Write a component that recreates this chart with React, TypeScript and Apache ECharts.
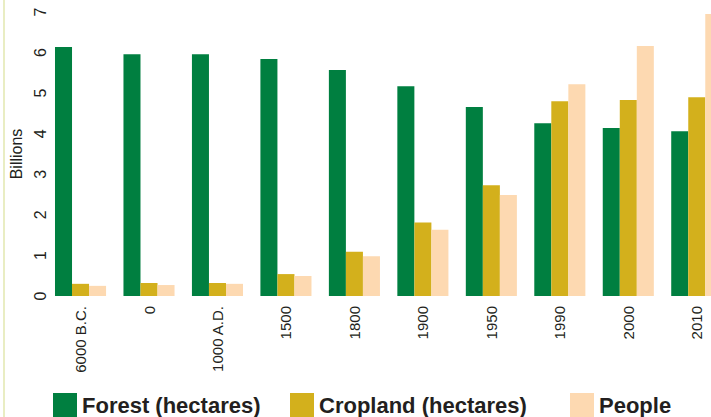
import React, { useEffect, useRef } from "react";
import * as echarts from "echarts";

const categories = ["6000 B.C.", "0", "1000 A.D.", "1500", "1800", "1900", "1950", "1990", "2000", "2010"];
const forest = [6.14, 5.96, 5.96, 5.84, 5.57, 5.17, 4.66, 4.26, 4.14, 4.06];
const cropland = [0.3, 0.32, 0.32, 0.54, 1.09, 1.81, 2.73, 4.8, 4.83, 4.9];
const people = [0.25, 0.27, 0.3, 0.49, 0.98, 1.63, 2.49, 5.22, 6.16, 6.95];
const yTicks = { min: 0, max: 7, interval: 1 };

const seriesNames = ["Forest (hectares)", "Cropland (hectares)", "People"];
const colors = ["#007f40", "#d3b01c", "#fdd9b1"];
const legendLefts = [53, 290, 570];

const FONT = "'Liberation Sans', Arial, sans-serif";
const TEXT = "#231f20";

export default function App() {
  const ref = useRef<HTMLDivElement>(null);
  useEffect(() => {
    if (!ref.current) return;
    const chart = echarts.init(ref.current, null, { renderer: "svg" });
    const values = [forest, cropland, people];
    chart.setOption({
      animation: false,
      backgroundColor: "#ffffff",
      color: colors,
      grid: { left: 46.3, right: 0, top: 12, bottom: 121, containLabel: false },
      legend: seriesNames.map((n, i) => ({
        data: [n],
        left: legendLefts[i],
        top: 393,
        itemWidth: 24,
        itemHeight: 24,
        icon: "rect",
        selectedMode: false,
        padding: 0,
        textStyle: { fontFamily: FONT, fontWeight: "bold", fontSize: 22, color: TEXT },
      })),
      xAxis: {
        type: "category",
        data: categories,
        axisLine: { show: false },
        axisTick: { show: false },
        axisLabel: { rotate: 90, margin: 10, fontFamily: FONT, fontSize: 15, color: TEXT, interval: 0 },
      },
      yAxis: {
        type: "value",
        min: yTicks.min,
        max: yTicks.max,
        interval: yTicks.interval,
        name: "Billions",
        nameLocation: "middle",
        nameRotate: 90,
        nameGap: 15,
        nameTextStyle: { fontFamily: FONT, fontSize: 16, color: TEXT },
        splitLine: { show: false },
        axisLine: { show: false },
        axisTick: { show: false },
        axisLabel: { rotate: 90, margin: -2, fontFamily: FONT, fontSize: 16, color: TEXT },
      },
      graphic: [
        { type: "rect", left: 3, top: 0, shape: { x: 0, y: 0, width: 2, height: 417 }, style: { fill: "#e9edc3" } },
      ],
      series: seriesNames.map((n, i) => ({
        name: n,
        type: "bar",
        data: values[i],
        barGap: "0%",
        barCategoryGap: "25.4%",
        itemStyle: { color: colors[i] },
      })),
    });
    return () => chart.dispose();
  }, []);
  return (
    <div style={{ position: "absolute", left: 0, top: 0, width: 711, height: 417, overflow: "hidden" }}>
      <div ref={ref} style={{ width: 731, height: 417 }} />
    </div>
  );
}
